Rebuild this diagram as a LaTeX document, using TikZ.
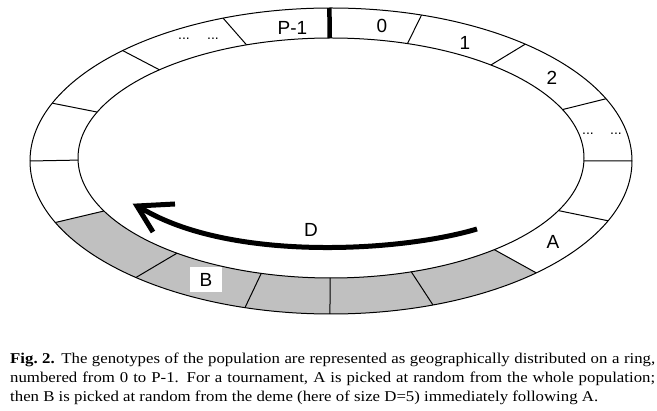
\documentclass[tikz,border=0pt]{standalone}
\usepackage{fontspec}
\setmainfont{Liberation Serif}
\newfontfamily\arialf{Liberation Sans}
\newfontfamily\captf[FakeStretch=1.12]{Liberation Serif}
\definecolor{ringgray}{RGB}{192,192,192}
\begin{document}
\begin{tikzpicture}[x=1pt,y=1pt,
  ringline/.style={draw=black, line width=1pt},
  divline/.style={draw=black, line width=1pt},
  thickdiv/.style={draw=black, line width=4.5pt},
  arrowline/.style={draw=black, line width=5pt},
  lab/.style={font=\arialf\fontsize{19}{19}\selectfont, inner sep=0pt},
  dotlab/.style={font=\arialf\fontsize{14}{14}\selectfont, inner sep=0pt, anchor=base},
  capt/.style={font=\captf\fontsize{15}{19.3}\selectfont, text width=645pt, align=justify, inner sep=0pt, anchor=north west}]
\useasboundingbox (0,0) rectangle (657,-411);
% centres of the two ellipses
\coordinate (O) at (331,-161);
\coordinate (I) at (331,-158);
% boundaries: outer / inner points (parametric angles)
\path (O) ++(90.3:301pt and 153pt) coordinate (o1);   \path (I) ++(90.3:253pt and 120pt) coordinate (i1);
\path (O) ++(72.5:301pt and 153pt) coordinate (o2);   \path (I) ++(72.4:253pt and 120pt) coordinate (i2);
\path (O) ++(49.8:301pt and 153pt) coordinate (o3);   \path (I) ++(50.8:253pt and 120pt) coordinate (i3);
\path (O) ++(24:301pt and 153pt) coordinate (o4);     \path (I) ++(23.8:253pt and 120pt) coordinate (i4);
\path (O) ++(0:301pt and 153pt) coordinate (o5);      \path (I) ++(-1.4:253pt and 120pt) coordinate (i5);
\path (O) ++(-23:301pt and 153pt) coordinate (o6);    \path (I) ++(-26:253pt and 120pt) coordinate (i6);
\path (O) ++(-47:301pt and 153pt) coordinate (o7);    \path (I) ++(-49.8:253pt and 120pt) coordinate (i7);
\path (O) ++(-70.2:301pt and 153pt) coordinate (o8);  \path (I) ++(-71.5:253pt and 120pt) coordinate (i8);
\path (O) ++(-90.2:301pt and 153pt) coordinate (o9);  \path (I) ++(-90.2:253pt and 120pt) coordinate (i9);
\path (O) ++(-106.6:301pt and 153pt) coordinate (o10);\path (I) ++(-106:253pt and 120pt) coordinate (i10);
\path (O) ++(-130.4:301pt and 153pt) coordinate (o11);\path (I) ++(-127.5:253pt and 120pt) coordinate (i11);
\path (O) ++(-156.3:301pt and 153pt) coordinate (o12);\path (I) ++(-153.8:253pt and 120pt) coordinate (i12);
\path (O) ++(180:301pt and 153pt) coordinate (o13);   \path (I) ++(181:253pt and 120pt) coordinate (i13);
\path (O) ++(157.8:301pt and 153pt) coordinate (o14); \path (I) ++(157.5:253pt and 120pt) coordinate (i14);
\path (O) ++(133.8:301pt and 153pt) coordinate (o15); \path (I) ++(132.7:253pt and 120pt) coordinate (i15);
\path (O) ++(111:301pt and 153pt) coordinate (o16);   \path (I) ++(109.5:253pt and 120pt) coordinate (i16);
% grey deme
\fill[ringgray] (o7) arc[start angle=-47, end angle=-156.3, x radius=301pt, y radius=153pt]
  -- (i12) arc[start angle=-153.8, end angle=-49.8, x radius=253pt, y radius=120pt] -- cycle;
% ring outlines
\draw[ringline] (O) ellipse [x radius=301pt, y radius=153pt];
\draw[ringline] (I) ellipse [x radius=253pt, y radius=120pt];
% dividers
\foreach \k in {2,...,16} { \draw[divline] (o\k) -- (i\k); }
\draw[thickdiv] (o1) -- (i1);
% labels
\node[lab] (lP) at (292.5,-28) {P-1};
\node[lab] (l0) at (382,-26) {0};
\node[lab] (l1) at (465,-43) {1};
\node[lab] (l2) at (552,-78) {2};
\node[lab] (lA) at (553,-242) {A};
\node[lab, fill=white, minimum width=32pt, minimum height=25pt] (lB) at (206,-279.5) {B};
\node[dotlab] (dl1) at (184,-40) {...};
\node[dotlab] (dl2) at (213,-40) {...};
\node[dotlab] (dr1) at (588,-135) {...};
\node[dotlab] (dr2) at (616,-135) {...};
% arrow D
\coordinate (arrS) at (477,-229);
\coordinate (arrT) at (137,-206);
\coordinate (arrE) at (141,-208);
\coordinate (arrA) at (175,-204);
\coordinate (arrB) at (153,-232);
\draw[arrowline] (arrS) .. controls (400,-252) and (230,-262) .. (arrE);
\draw[arrowline, line join=miter] (arrA) -- (arrT) -- (arrB);
\node[lab] (lD) at (311,-230) {D};
% caption
\node[capt] (cap) at (10,-352.3) {\textbf{Fig.~2.} The genotypes of the population are represented as geographically distributed on a ring,\linebreak numbered from 0 to P-1. For a tournament, A is picked at random from the whole population;\linebreak then B is picked at random from the deme (here of size D=5) immediately following A.};
\end{tikzpicture}
\end{document}
